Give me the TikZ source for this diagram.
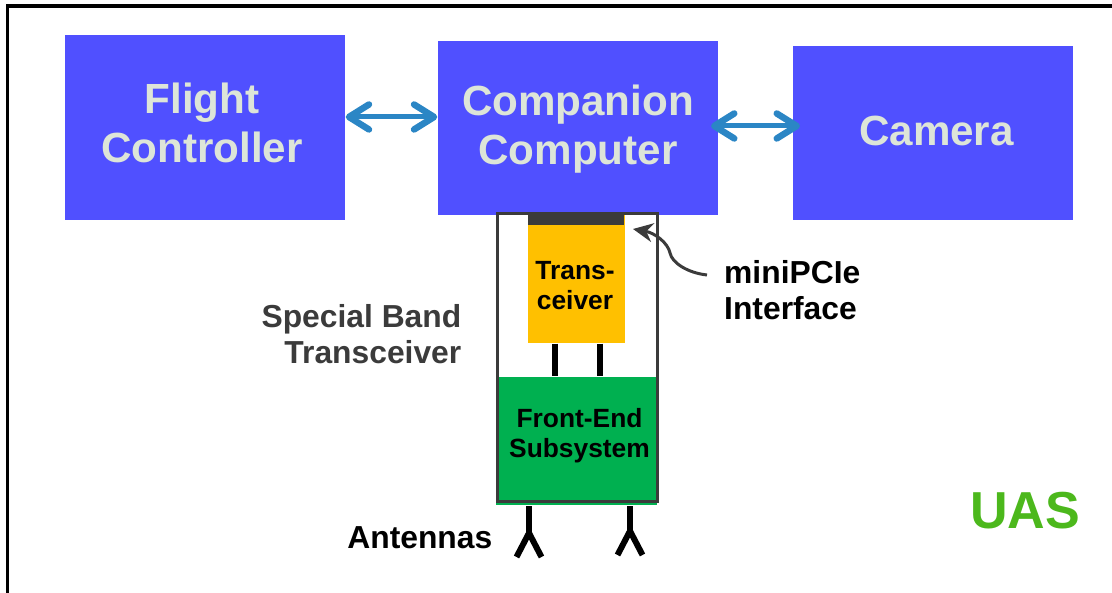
\documentclass[tikz,border=0pt]{standalone}
\usepackage{fontspec}
\setmainfont{Liberation Sans}
\usetikzlibrary{arrows.meta}
\definecolor{boxblue}{HTML}{5050FF}
\definecolor{boxtext}{HTML}{DDE5D8}
\definecolor{linkblue}{HTML}{2B86C5}
\definecolor{darkgrey}{HTML}{3B3B3B}
\definecolor{xcvrorange}{HTML}{FFC000}
\definecolor{frontgreen}{HTML}{00B050}
\definecolor{uasgreen}{HTML}{4CB81C}

\begin{document}
\begin{tikzpicture}[font=\bfseries]
                \tikzstyle{block}=[fill=boxblue,minimum width=2.8cm,inner sep=0pt]
                \tikzstyle{blocktext}=[text=boxtext,inner sep=0pt,align=center,font=\bfseries\fontsize{12}{13.9}\selectfont]
                \tikzstyle{inner}=[inner sep=0pt,align=center,font=\bfseries\fontsize{7.5}{8.6}\selectfont]
                \tikzstyle{caption}=[inner sep=0pt,font=\bfseries\fontsize{9.05}{10.4}\selectfont]
                \tikzstyle{link}=[line width=.05cm,color=linkblue,{Straight Barb[round,length=.2cm,width=.25cm,line width=.065cm]}-{Straight Barb[round,length=.2cm,width=.25cm,line width=.065cm]}]
                \tikzstyle{lead}=[line width=.06cm,black]

                \useasboundingbox (0,0) rectangle (11.12,5.93);
                \coordinate (F-BL) at (.075,0);
                \coordinate (F-TL) at (.075,5.87);
                \coordinate (F-TR) at (11.12,5.87);
                \draw[line width=.04cm,black] (F-BL) -- (F-TL) -- (F-TR);

                \node[block,minimum height=1.85cm] (FC) at (2.05,4.655) {};
                \node[block,minimum height=1.74cm] (CC) at (5.78,4.65) {};
                \node[block,minimum height=1.74cm] (CAM) at (9.33,4.60) {};
                \node[blocktext] (FC-T) at (2.02,4.70) {Flight\\Controller};
                \node[blocktext] (CC-T) at (5.78,4.64) {Companion\\Computer};
                \node[blocktext] (CAM-T) at (9.365,4.62) {Camera};

                \draw[link] (FC.east |- 0,4.76) -- (CC.west |- 0,4.76);
                \coordinate (L-CC) at (7.11,4.67);
                \coordinate (L-CAM) at (8.00,4.67);
                \draw[link] (L-CC) -- (L-CAM);

                \node[fill=frontgreen,minimum width=1.61cm,minimum height=1.285cm,inner sep=0pt] (FE) at (5.765,1.5175) {};
                \node[inner] (FE-T) at (5.795,1.57) {Front-End\\Subsystem};
                \node[fill=xcvrorange,minimum width=.97cm,minimum height=1.30cm,inner sep=0pt] (XCVR) at (5.765,3.15) {};
                \node[inner] (XCVR-T) at (5.75,3.075) {Trans-\\ceiver};
                \node[fill=darkgrey,minimum width=.96cm,minimum height=.12cm,inner sep=0pt] (IF) at (5.76,3.74) {};
                \node[draw=darkgrey,line width=.03cm,minimum width=1.60cm,minimum height=2.875cm,inner sep=0pt] (UST) at (5.77,2.3525) {};

                \foreach \x in {5.55, 6.00}
                    \draw[lead] (\x,0 |- XCVR.south) -- (\x,0 |- FE.north);

                % antennas
                \foreach \num/\x/\y in {1/5.29/.36, 2/6.30/.38}{
                    \coordinate (A-\num) at (\x,\y+.24);
                    \coordinate (A-\num-L) at (\x-.125,\y);
                    \coordinate (A-\num-R) at (\x+.125,\y);
                    \draw[lead] (\x,0 |- FE.south) -- (A-\num);
                    \draw[lead] (A-\num-L) -- (A-\num) -- (A-\num-R);
                }

                \node[caption,text=darkgrey,align=right,anchor=east] (SBT) at (4.62,2.59) {Special Band\\Transceiver};
                \node[caption,align=left,anchor=west] (MPI) at (7.235,3.03) {miniPCIe\\Interface};
                \node[caption,anchor=east] (ANT) at (4.93,.55) {Antennas};
                \node[inner sep=0pt,text=uasgreen,font=\bfseries\fontsize{14.8}{16}\selectfont] (UAS) at (10.25,.82) {UAS};

                \coordinate (C-END) at (7.07,3.18);
                \coordinate (C-TIP) at (6.33,3.64);
                \draw[line width=.03cm,darkgrey,-{Stealth[length=.2cm,width=.19cm]}] (C-END) .. controls (6.88,3.20) and (6.72,3.30) .. (6.70,3.40) .. controls (6.68,3.50) and (6.55,3.60) .. (C-TIP);
            \end{tikzpicture}
\end{document}
